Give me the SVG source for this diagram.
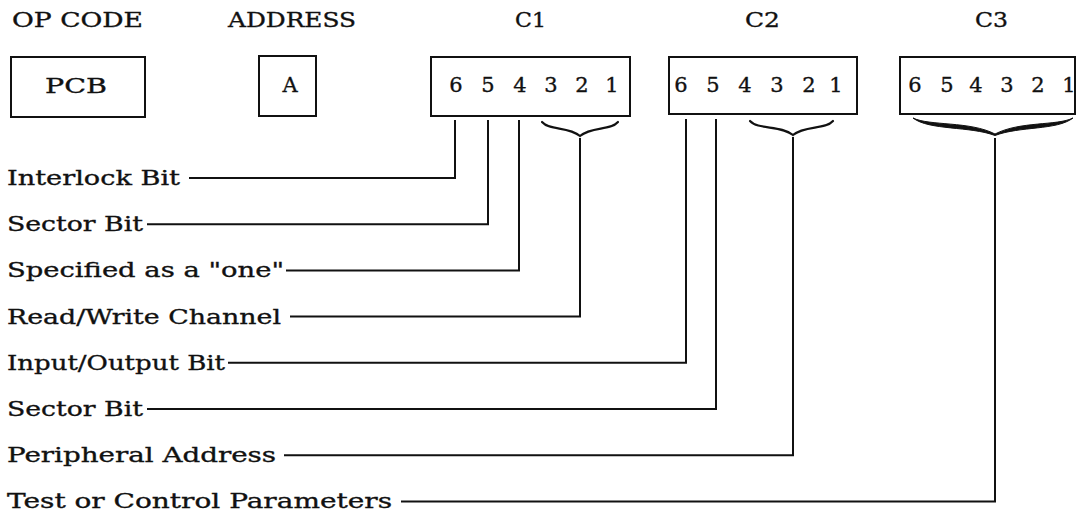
<svg xmlns="http://www.w3.org/2000/svg" width="1076" height="513" viewBox="0 0 1076 513">
<style>
text{font-family:"DejaVu Serif","Liberation Serif",serif;font-size:21px;fill:#111;stroke:#111;stroke-width:0.35}
.box{fill:none;stroke:#111;stroke-width:2}
.ln{fill:none;stroke:#111;stroke-width:2}
.br{fill:none;stroke:#111;stroke-width:2.2;stroke-linecap:round}
.d{text-anchor:middle}
</style>
<rect width="1076" height="513" fill="#fff"/>
<g id="headers">
<text x="12" y="27" textLength="131" lengthAdjust="spacingAndGlyphs">OP CODE</text>
<text x="228" y="27" textLength="128" lengthAdjust="spacingAndGlyphs">ADDRESS</text>
<text x="515" y="27" textLength="31" lengthAdjust="spacingAndGlyphs">C1</text>
<text x="745" y="27" textLength="35" lengthAdjust="spacingAndGlyphs">C2</text>
<text x="975" y="27" textLength="33" lengthAdjust="spacingAndGlyphs">C3</text>
</g>
<g id="opcode">
<rect class="box" x="11" y="57" width="134" height="60"/>
<text x="45" y="93" textLength="62" lengthAdjust="spacingAndGlyphs">PCB</text>
</g>
<g id="address">
<rect class="box" x="259" y="56" width="57" height="60"/>
<text class="d" x="290" y="92">A</text>
</g>
<g id="c1">
<rect class="box" x="431" y="57" width="199" height="59"/>
<text class="d" x="456" y="92">6</text>
<text class="d" x="488" y="92">5</text>
<text class="d" x="520" y="92">4</text>
<text class="d" x="551" y="92">3</text>
<text class="d" x="582" y="92">2</text>
<text class="d" x="612" y="92">1</text>
</g>
<g id="c2">
<rect class="box" x="669" y="57" width="188" height="57"/>
<text class="d" x="681" y="92">6</text>
<text class="d" x="713" y="92">5</text>
<text class="d" x="745" y="92">4</text>
<text class="d" x="777" y="92">3</text>
<text class="d" x="809" y="92">2</text>
<text class="d" x="836" y="92">1</text>
</g>
<g id="c3">
<rect class="box" x="900" y="57" width="175" height="57"/>
<text class="d" x="915" y="92">6</text>
<text class="d" x="947" y="92">5</text>
<text class="d" x="976" y="92">4</text>
<text class="d" x="1007" y="92">3</text>
<text class="d" x="1038" y="92">2</text>
<text class="d" x="1069" y="92">1</text>
</g>
<g id="labels">
<text x="7" y="185" textLength="173" lengthAdjust="spacingAndGlyphs">Interlock Bit</text>
<text x="7" y="231" textLength="136" lengthAdjust="spacingAndGlyphs">Sector Bit</text>
<text x="7" y="277" textLength="277" lengthAdjust="spacingAndGlyphs">Specified as a "one"</text>
<text x="7" y="323.6" textLength="274" lengthAdjust="spacingAndGlyphs">Read/Write Channel</text>
<text x="7" y="369.8" textLength="218" lengthAdjust="spacingAndGlyphs">Input/Output Bit</text>
<text x="7" y="416" textLength="136" lengthAdjust="spacingAndGlyphs">Sector Bit</text>
<text x="7" y="462.2" textLength="269" lengthAdjust="spacingAndGlyphs">Peripheral Address</text>
<text x="7" y="508.4" textLength="385" lengthAdjust="spacingAndGlyphs">Test or Control Parameters</text>
</g>
<g id="connectors">
<path class="br" d="M542,122 C550,131 568,126 580,136 C592,126 610,131 618,122"/>
<path class="br" d="M750,121 C758,130 781,125 793,135 C805,125 825,130 833,121"/>
<path fill="#111" stroke="#111" stroke-width="1" d="M913,118 C929,126 970,121 995,134 C1020,121 1057,126 1073,118 C1057,130.5 1020,126 995,135.5 C970,126 929,130.5 913,118 Z"/>
<polyline class="ln" points="189,178 455,178 455,120"/>
<polyline class="ln" points="147,224.2 488,224.2 488,120"/>
<polyline class="ln" points="286,270.4 519,270.4 519,120"/>
<polyline class="ln" points="290,316.6 580,316.6 580,138"/>
<polyline class="ln" points="228,362.8 686,362.8 686,119"/>
<polyline class="ln" points="147,409 716,409 716,119"/>
<polyline class="ln" points="284,455.2 793,455.2 793,137"/>
<polyline class="ln" points="401,501.4 995,501.4 995,138"/>
</g>
</svg>
